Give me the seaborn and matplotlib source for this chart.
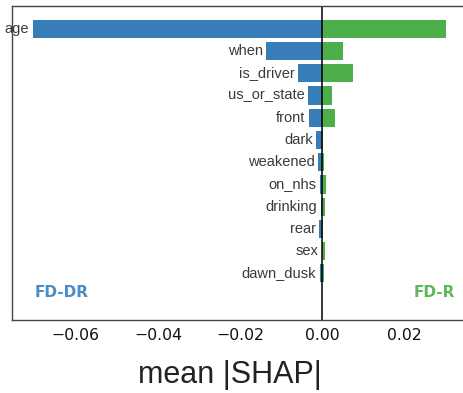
import matplotlib
matplotlib.use("Agg")
import matplotlib.pyplot as plt
import seaborn as sns
import pandas as pd

features = ["age", "when", "is_driver", "us_or_state", "front", "dark",
            "weakened", "on_nhs", "drinking", "rear", "sex", "dawn_dusk"]
fd_dr = [0.0705, 0.0137, 0.0059, 0.0035, 0.0032, 0.0015,
         0.0010, 0.0006, 0.0004, 0.0007, 0.0001, 0.0006]
fd_r = [0.0302, 0.0050, 0.0075, 0.0024, 0.0031, 0.0001,
        0.0003, 0.0008, 0.0007, 0.0002, 0.0006, 0.0003]

blue = "#377eb8"
green = "#4daf4a"

sns.set_style("white")
plt.rcParams["font.family"] = ["DejaVu Sans"]

df = pd.DataFrame({"feature": features,
                   "dr": [-v for v in fd_dr],
                   "r": fd_r})

fig = plt.figure(figsize=(4.63, 3.93), dpi=100)
x0 = 12.3
x1 = 470.0
ax = fig.add_axes([x0 / 463, 1 - 320 / 393, (x1 - x0) / 463, (320 - 5.7) / 393])

sns.barplot(data=df, y="feature", x="dr", color=blue, orient="h",
            width=0.82, ax=ax, saturation=1, edgecolor="none")
sns.barplot(data=df, y="feature", x="r", color=green, orient="h",
            width=0.82, ax=ax, saturation=1, edgecolor="none")

ax.axvline(0, color="black", lw=1.1)

for i, (name, v) in enumerate(zip(features, fd_dr)):
    ax.annotate(name, xy=(-v, i), xytext=(-2.5, 0), textcoords="offset points",
                ha="right", va="center", fontsize=10.5, color="#3a3a3a",
                family=["Liberation Sans"], annotation_clip=False)

unit = 0.02 / 82.2
ax.set_xlim(-(322.3 - x0) * unit, (x1 - 322.3) * unit)
ax.set_ylim(13.1, -1.04)
ax.set_yticks([])
ax.set_ylabel("")
ax.set_xticks([-0.06, -0.04, -0.02, 0.0, 0.02])
ax.set_xticklabels(["\u22120.06", "\u22120.04", "\u22120.02", "0.00", "0.02"])
ax.tick_params(axis="x", direction="out", length=3, width=0.8,
               color="#666666", labelsize=11.3, labelcolor="#111111", pad=3)

ax.set_xlabel("mean |SHAP|", fontsize=22, family=["Liberation Sans"], color="#222222")
ax.xaxis.label.set_va("center")
ax.xaxis.set_label_coords((229.5 - x0) / (x1 - x0), -0.175)

for side in ["left", "top", "bottom"]:
    ax.spines[side].set_visible(True)
    ax.spines[side].set_color("#444444")
    ax.spines[side].set_linewidth(1.0)
ax.spines["right"].set_visible(False)

ax.text((35 - x0) / (x1 - x0), 0.089, "FD-DR", transform=ax.transAxes, ha="left",
        va="center", fontsize=11, fontweight="bold", color="#4a8cc6")
ax.text((455 - x0) / (x1 - x0), 0.089, "FD-R", transform=ax.transAxes, ha="right",
        va="center", fontsize=11, fontweight="bold", color="#5cb85a")

fig.savefig("out.png", dpi=100)
